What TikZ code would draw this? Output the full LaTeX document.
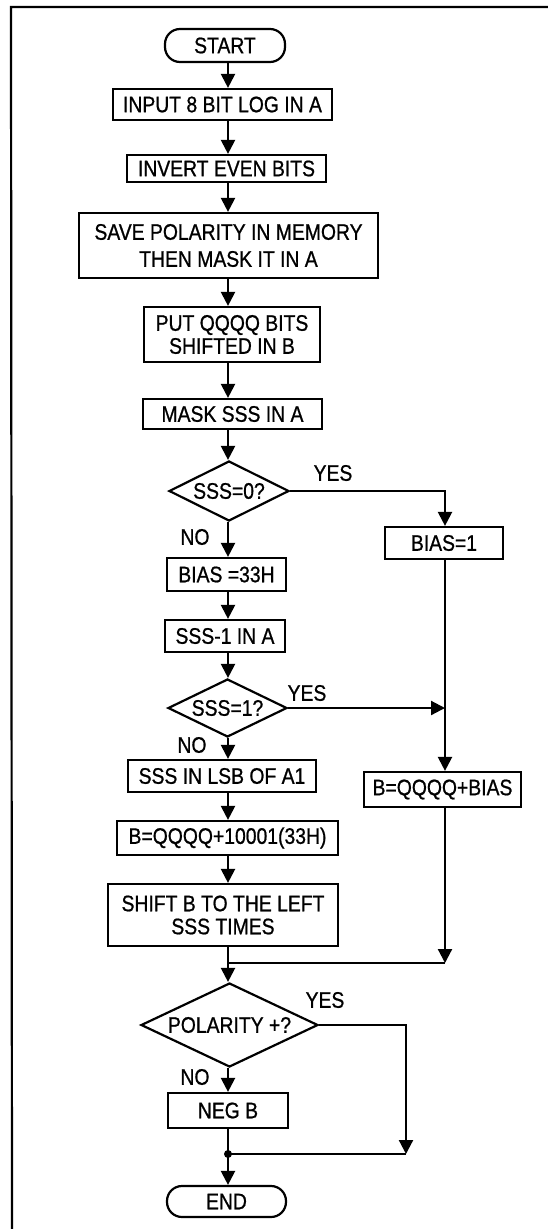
\documentclass[tikz,border=0pt]{standalone}
\usepackage{fontspec}
\setmainfont{Liberation Sans}[FakeStretch=0.86,FakeBold=0.8]
\usetikzlibrary{shapes.geometric,arrows.meta}
\begin{document}
\begin{tikzpicture}[x=1pt,y=-1pt,
  lw/.style={line width=2.2pt},
  txt/.style={font=\fontsize{22.5}{25}\selectfont},
  box/.style={draw,lw,rectangle,inner sep=0pt,align=center,txt},
  term/.style={box,rounded corners=15pt},
  dec/.style={draw,lw,diamond,inner sep=0pt,txt},
  arr/.style={lw,-{Triangle[length=14pt,width=14pt]}},
  con/.style={lw},
  lab/.style={txt,inner sep=0pt}]
\useasboundingbox (0,0) rectangle (548,1229);
\fill[white] (0,0) rectangle (548,1229);
% frame
\coordinate (ftr) at (548,7);
\coordinate (ftl) at (11,7);
\coordinate (fbl) at (12,1229);
\draw[lw] (ftr) -- (ftl) -- (fbl);
% axes
\coordinate (ax) at (228,0);
\coordinate (rx) at (445,0);
\coordinate (px) at (406,0);
% nodes
\node[term, minimum width=120pt, minimum height=33pt] (start) at (225,45.5) {START};
\node[box, minimum width=219pt, minimum height=31pt] (input) at (222.5,104.5) {INPUT 8 BIT LOG IN A};
\node[box, minimum width=199pt, minimum height=27pt] (invert) at (226.5,168.5) {INVERT EVEN BITS};
\node[box, minimum width=299pt, minimum height=65pt, font=\fontsize{22.5}{27}\selectfont] (save) at (228.5,245.5) {SAVE POLARITY IN MEMORY\\THEN MASK IT IN A};
\node[box, minimum width=176pt, minimum height=55pt, font=\fontsize{22.5}{23}\selectfont] (put) at (232,334.5) {PUT QQQQ BITS\\SHIFTED IN B};
\node[box, minimum width=179pt, minimum height=30pt] (mask) at (232.5,414) {MASK SSS IN A};
\node[dec, aspect=2, minimum width=120pt, minimum height=60pt] (d0) at (229,491) {SSS=0?};
\node[box, minimum width=118pt, minimum height=32pt] (bias1) at (444,543) {BIAS=1};
\node[box, minimum width=119pt, minimum height=33pt] (bias33) at (226.5,574.5) {BIAS =33H};
\node[box, minimum width=120pt, minimum height=32pt] (sssm1) at (225,636) {SSS-1 IN A};
\node[dec, aspect=2.05, minimum width=119pt, minimum height=58pt] (d1) at (227.5,708) {SSS=1?};
\node[box, minimum width=188pt, minimum height=32pt] (lsb) at (222,776) {SSS IN LSB OF A1};
\node[box, minimum width=157pt, minimum height=35pt] (bqb) at (442.5,789.5) {B=QQQQ+BIAS};
\node[box, minimum width=221pt, minimum height=34pt] (bq10) at (227.5,838) {B=QQQQ+10001(33H)};
\node[box, minimum width=230pt, minimum height=62pt, font=\fontsize{22.5}{23}\selectfont] (shift) at (223,915) {SHIFT B TO THE LEFT\\SSS TIMES};
\node[dec, aspect=2.1, minimum width=177pt, minimum height=84pt] (d2) at (229.5,1025) {POLARITY +?};
\node[box, minimum width=120pt, minimum height=35pt] (neg) at (228,1110.5) {NEG B};
\node[term, minimum width=119pt, minimum height=31pt] (end) at (226.5,1201.5) {END};
% labels
\node[lab] (yes0) at (333,473) {YES};
\node[lab] (no0) at (195,537) {NO};
\node[lab] (yes1) at (307,693) {YES};
\node[lab] (no1) at (192,745) {NO};
\node[lab] (yes2) at (325,1000) {YES};
\node[lab] (no2) at (195,1077) {NO};
% join points
\coordinate (m1) at (228,963);
\coordinate (dot) at (228,1154);
% main flow
\draw[arr] (start.south -| ax) -- (input.north -| ax);
\draw[arr] (input.south -| ax) -- (invert.north -| ax);
\draw[arr] (invert.south -| ax) -- (save.north -| ax);
\draw[arr] (save.south -| ax) -- (put.north -| ax);
\draw[arr] (put.south -| ax) -- (mask.north -| ax);
\draw[arr] (mask.south -| ax) -- (d0.north -| ax);
\draw[arr] (d0.south -| ax) -- (bias33.north -| ax);
\draw[arr] (bias33.south -| ax) -- (sssm1.north -| ax);
\draw[arr] (sssm1.south -| ax) -- (d1.north -| ax);
\draw[arr] (d1.south -| ax) -- (lsb.north -| ax);
\draw[arr] (lsb.south -| ax) -- (bq10.north -| ax);
\draw[arr] (bq10.south -| ax) -- (shift.north -| ax);
\draw[arr] (shift.south -| ax) -- (d2.north -| ax);
\draw[arr] (d2.south -| ax) -- (neg.north -| ax);
\draw[con] (neg.south -| ax) -- (dot);
\draw[arr] (dot) -- (end.north -| ax);
\fill (dot) circle (4pt);
% right branch
\draw[arr] (d0.east) -- (d0.east -| rx) -- (bias1.north -| rx);
\draw[arr] (bias1.south -| rx) -- (bqb.north -| rx);
\draw[arr] (d1.east) -- (d1.east -| rx);
\draw[arr] (bqb.south -| rx) -- (m1 -| rx);
\draw[con] (m1 -| rx) -- (m1);
% polarity branch
\draw[arr] (d2.east) -- (d2.east -| px) -- (dot -| px);
\draw[con] (dot -| px) -- (dot);
\end{tikzpicture}
\end{document}
